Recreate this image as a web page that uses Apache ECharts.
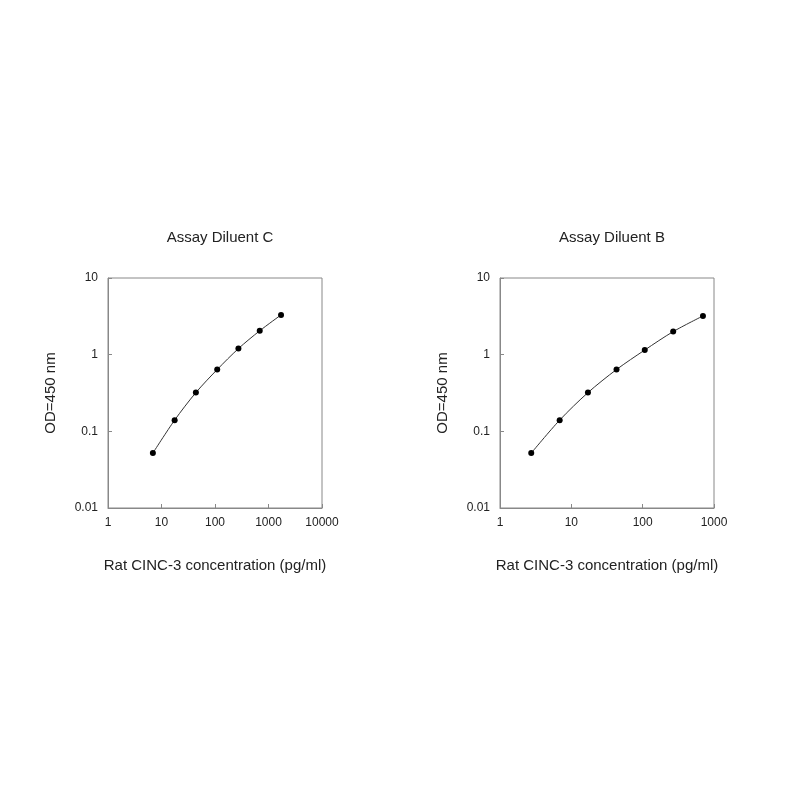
<!DOCTYPE html>
<html><head><meta charset="utf-8">
<script src="https://cdn.jsdelivr.net/npm/echarts@6/dist/echarts.min.js"></script>
<style>html,body{margin:0;background:#fff}#c{width:800px;height:800px}</style>
</head><body><div id="c"></div>
<script>
const titles = ["Assay Diluent C", "Assay Diluent B"];
const xLabel = "Rat CINC-3 concentration (pg/ml)";
const yLabel = "OD=450 nm";
const concC = [6.9, 17.6, 43.9, 110, 274, 686, 1715];
const odC = [0.052, 0.14, 0.32, 0.64, 1.2, 2.05, 3.3];
const concB = [2.74, 6.86, 17.1, 43, 107, 268, 700];
const odB = [0.052, 0.14, 0.32, 0.64, 1.15, 2.0, 3.2];
const xMax = [10000, 1000];

const grids = [
  {left:108, top:278, width:214, height:230, show:true, borderColor:'#888', borderWidth:1},
  {left:500, top:278, width:214, height:230, show:true, borderColor:'#888', borderWidth:1}
];
const font = {fontFamily:'Liberation Sans, Arial', color:'#222'};
const chart = echarts.init(document.getElementById('c'));
chart.setOption({
  animation:false,
  title: titles.map((t,i)=>({text:t, left: grids[i].left + 107, top:225, textAlign:'center',
    textStyle:{...font, fontSize:15, fontWeight:'normal'}})),
  grid: grids,
  xAxis: [0,1].map(i=>({type:'log', gridIndex:i, min:1, max:xMax[i], logBase:10,
    name:xLabel, nameLocation:'middle', nameGap:50, nameTextStyle:{...font, fontSize:15},
    axisLine:{show:true, lineStyle:{color:'#888'}}, axisTick:{show:true, length:-4, lineStyle:{color:'#888'}},
    splitLine:{show:false}, minorTick:{show:false},
    axisLabel:{...font, fontSize:12, margin:9, formatter:v=>String(Math.round(v))}})),
  yAxis: [0,1].map(i=>({type:'log', gridIndex:i, min:0.01, max:10, logBase:10,
    name:yLabel, nameLocation:'middle', nameGap:50, nameTextStyle:{...font, fontSize:15},
    axisLine:{show:true, lineStyle:{color:'#888'}}, axisTick:{show:true, length:-4, lineStyle:{color:'#888'}},
    splitLine:{show:false},
    axisLabel:{...font, fontSize:12, margin:10, formatter:v=>String(+v.toPrecision(2))}})),
  series: [[concC,odC],[concB,odB]].map((d,i)=>({type:'line', xAxisIndex:i, yAxisIndex:i,
    data:d[0].map((x,j)=>[x,d[1][j]]), smooth:0.3, symbol:'circle', symbolSize:6,
    lineStyle:{color:'#333', width:1}, itemStyle:{color:'#000'}}))
});
</script></body></html>
